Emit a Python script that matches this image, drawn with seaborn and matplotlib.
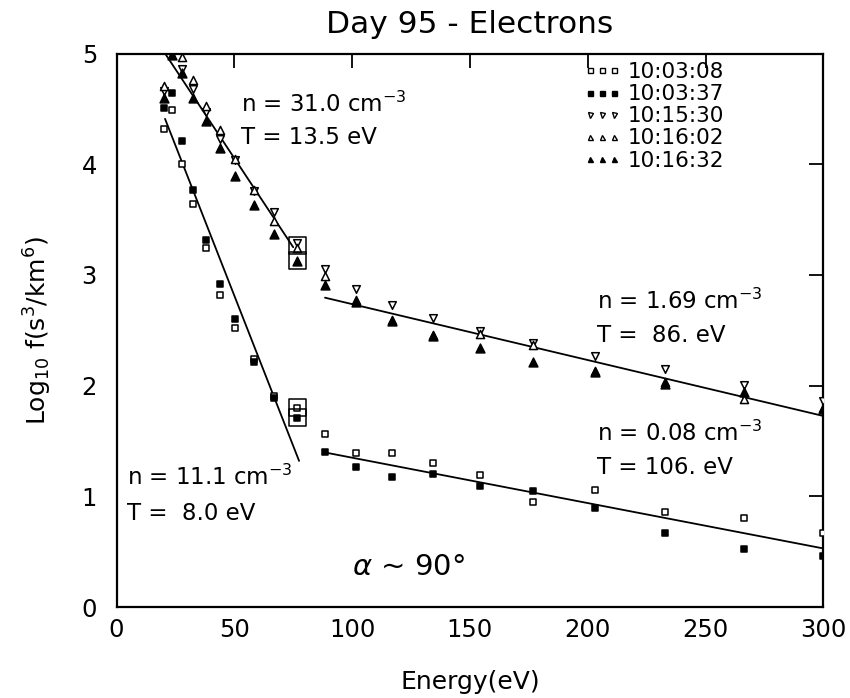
import numpy as np
import pandas as pd
import matplotlib
matplotlib.use("Agg")
import matplotlib.pyplot as plt
from matplotlib.lines import Line2D
import seaborn as sns

# Energy channels (eV)
energy = [20.3, 23.6, 27.7, 32.4, 37.8, 43.8, 50.5, 58.3, 67.0, 76.8,
          88.7, 101.8, 117.0, 134.2, 154.3, 176.8, 203.0, 232.6, 266.3, 299.7]

# log10 f (s^3/km^6) for each spectrum time
f_100308 = [4.32, 4.49, 4.00, 3.64, 3.24, 2.82, 2.52, 2.24, 1.91, 1.80,
            1.56, 1.39, 1.39, 1.30, 1.19, 0.95, 1.06, 0.86, 0.81, 0.67]
f_100337 = [4.51, 4.64, 4.21, 3.77, 3.32, 2.92, 2.60, 2.21, 1.89, 1.71,
            1.40, 1.27, 1.18, 1.20, 1.09, 1.05, 0.90, 0.67, 0.53, 0.46]
f_101530 = [4.66, 4.99, 4.86, 4.68, 4.47, 4.23, 4.04, 3.76, 3.57, 3.29,
            3.05, 2.87, 2.73, 2.61, 2.49, 2.39, 2.27, 2.15, 2.01, 1.86]
f_101602 = [4.71, np.nan, 4.97, 4.76, 4.53, 4.31, 4.05, 3.77, 3.49, 3.24,
            2.99, 2.77, 2.59, 2.46, 2.47, 2.37, 2.13, 2.03, 1.88, 1.80]
f_101632 = [4.60, 4.99, 4.82, 4.60, 4.39, 4.15, 3.89, 3.63, 3.37, 3.13,
            2.91, 2.76, 2.58, 2.45, 2.34, 2.21, 2.12, 2.02, 1.94, 1.79]

times = ["10:03:08", "10:03:37", "10:15:30", "10:16:02", "10:16:32"]
series = [f_100308, f_100337, f_101530, f_101602, f_101632]
markers = ["s", "s", "v", "^", "^"]
filled = [False, True, False, False, True]
sizes = [22, 22, 30, 34, 40]

# Maxwellian fits: density label, temperature (eV), energy range, starting log10 f
fit_n = ["11.1", "31.0", "1.69", "0.08"]
fit_T = [8.0, 13.5, 86.0, 106.0]
fit_E0 = [20.6, 20.0, 88.5, 88.8]
fit_E1 = [77.5, 75.0, 299.5, 299.7]
fit_f0 = [4.41, 5.02, 2.795, 1.396]

# Spectrum points flagged at 77 eV
flag_E = 76.8

df = pd.DataFrame({"Energy": np.repeat(energy, len(times)),
                   "f": np.array(series).T.ravel(),
                   "time": times * len(energy)})

sns.set_theme(style="white")
plt.rcParams["font.family"] = ["DejaVu Sans"]
plt.rcParams["mathtext.fontset"] = "dejavusans"
plt.rcParams["text.color"] = "black"
plt.rcParams["axes.labelcolor"] = "black"

fig = plt.figure(figsize=(8.5, 6.98), dpi=100)
ax = fig.add_axes([116.5 / 850, 1 - 607.2 / 698, (823.3 - 116.5) / 850, (607.2 - 53.5) / 698])

handles = []
for t, m, fl, s in zip(times, markers, filled, sizes):
    sub = df[df["time"] == t]
    sns.scatterplot(data=sub, x="Energy", y="f", ax=ax, marker=m, s=s,
                    facecolor="black" if fl else "white", edgecolor="black",
                    linewidth=1.1, legend=False, zorder=3 + (1 if fl else 0))
    handles.append(Line2D([], [], linestyle="none", marker=m, markersize=3.6,
                          markerfacecolor="black" if fl else "white",
                          markeredgecolor="black", markeredgewidth=1.0))

# Fitted Maxwellian lines, slope set by the temperature
log_e = np.log10(np.e)
for T, E0, E1, f0 in zip(fit_T, fit_E0, fit_E1, fit_f0):
    E = np.linspace(E0, E1, 50)
    sns.lineplot(x=E, y=f0 - log_e * (E - E0) / T, ax=ax, color="black",
                 linewidth=1.3, zorder=2)

# Boxes around the 77 eV points
i77 = energy.index(flag_E)
box_y = [(f_101530[i77] + f_101602[i77]) / 2, f_101632[i77],
         f_100308[i77], f_100337[i77]]
ax.scatter([flag_E] * 4, box_y, marker="s", s=150, facecolor="none",
           edgecolor="black", linewidth=1.1, zorder=5)

# Fit annotations
fs = 16.5
ax.text(52.8, 4.47, f"n = {fit_n[1]} cm$^{{-3}}$", fontsize=fs, ha="left", va="baseline")
ax.text(52.8, 4.185, f"T = {fit_T[1]:.1f} eV", fontsize=fs, ha="left", va="baseline")
ax.text(4.3, 1.10, f"n = {fit_n[0]} cm$^{{-3}}$", fontsize=fs, ha="left", va="baseline")
ax.text(4.3, 0.79, f"T =  {fit_T[0]:.1f} eV", fontsize=fs, ha="left", va="baseline")
ax.text(203.8, 2.696, f"n = {fit_n[2]} cm$^{{-3}}$", fontsize=fs, ha="left", va="baseline")
ax.text(203.8, 2.394, f"T =  {fit_T[2]:.0f}. eV", fontsize=fs, ha="left", va="baseline")
ax.text(204.0, 1.50, f"n = {fit_n[3]} cm$^{{-3}}$", fontsize=fs, ha="left", va="baseline")
ax.text(204.0, 1.20, f"T = {fit_T[3]:.0f}. eV", fontsize=fs, ha="left", va="baseline")
ax.text(99.8, 0.29, r"$\alpha$ ~ 90°", fontsize=21, ha="left", va="baseline")

ax.set_xlim(0, 300)
ax.set_ylim(0, 5)
ax.set_xticks([0, 50, 100, 150, 200, 250, 300])
ax.set_yticks([0, 1, 2, 3, 4, 5])
ax.tick_params(direction="in", length=10, width=1.3, top=True, right=True,
               labelsize=17.5, pad=8, colors="black")
ax.tick_params(axis="y", pad=14)
for sp in ax.spines.values():
    sp.set_linewidth(1.6)
    sp.set_color("black")

ax.set_xlabel("Energy(eV)", fontsize=18, labelpad=20)
ax.set_ylabel("Log$_{10}$ f(s$^3$/km$^6$)", fontsize=18, labelpad=20)
ax.set_title("Day 95 - Electrons", fontsize=22.5, pad=15)

ax.legend(handles, times, loc="upper left", frameon=False, fontsize=15.5,
          numpoints=3, handlelength=1.7, handletextpad=0.35, labelspacing=0.1,
          borderpad=0, borderaxespad=0, bbox_to_anchor=(584 / 850, 1 - 62 / 698),
          bbox_transform=fig.transFigure)

fig.savefig("out.png", dpi=100, facecolor="white")
